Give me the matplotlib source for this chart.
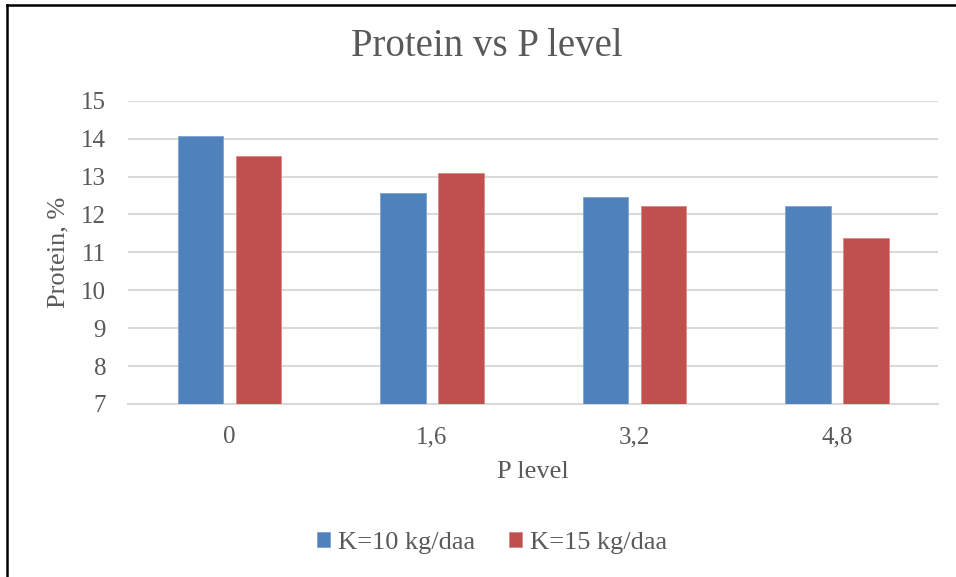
import matplotlib.pyplot as plt
import numpy as np
from matplotlib.lines import Line2D

# data
p_levels = ["0", "1,6", "3,2", "4,8"]
protein_k10 = [14.08, 12.56, 12.46, 12.22]
protein_k15 = [13.54, 13.09, 12.22, 11.38]
series_names = ["K=10 kg/daa", "K=15 kg/daa"]
y_ticks = [7, 8, 9, 10, 11, 12, 13, 14, 15]

BLUE = "#4f81bd"
RED = "#c0504d"
TEXT = "#595959"
GRID = "#d9d9d9"

plt.rcParams["font.family"] = ["Liberation Serif", "DejaVu Serif"]

W, H = 956, 577
fig = plt.figure(figsize=(W / 100, H / 100), dpi=100)
ax = fig.add_axes([128.3 / W, 1 - 404 / H, (938 - 128.3) / W, (404 - 100.7) / H])

x = np.arange(len(p_levels))
width = 0.225
offset = 0.143
ax.bar(x - offset, protein_k10, width, color=BLUE, edgecolor="#7fa3d1",
       linewidth=0.6, label=series_names[0], zorder=3)
ax.bar(x + offset, protein_k15, width, color=RED, edgecolor="#d98886",
       linewidth=0.6, label=series_names[1], zorder=3)

ax.set_xlim(-0.5, len(p_levels) - 0.5)
ax.set_ylim(7, 15)
ax.set_yticks(y_ticks)
ax.set_xticks(x)
ax.set_xticklabels(p_levels)
ax.tick_params(axis="both", length=0, labelsize=18, labelcolor=TEXT)
ax.tick_params(axis="y", pad=16)
ax.tick_params(axis="x", pad=16)
ax.grid(axis="y", color=GRID, linewidth=1.5, zorder=0)
for s in ["top", "right", "left"]:
    ax.spines[s].set_visible(False)
ax.spines["bottom"].set_color(GRID)
ax.spines["bottom"].set_linewidth(1.5)

fig.text(487 / W, 1 - 47 / H, "Protein vs P level", ha="center", va="center",
         fontsize=28, color=TEXT)
fig.text(533 / W, 1 - 472 / H, "P level", ha="center", va="center",
         fontsize=19, color=TEXT)
fig.text(58 / W, 1 - 252 / H, "Protein, %", ha="center", va="center",
         fontsize=19, color=TEXT, rotation=90)

fig.legend(loc="center", bbox_to_anchor=(492 / W, 1 - 543 / H), ncol=2,
           frameon=False, fontsize=19, labelcolor=TEXT, handlelength=0.5,
           handleheight=0.5, handletextpad=0.3, columnspacing=1.3)

# page frame lines (cropped document border)
fig.add_artist(Line2D([7 / W, 1], [1 - 4.5 / H, 1 - 4.5 / H], color="black", linewidth=1.8))
fig.add_artist(Line2D([7 / W, 7 / W], [0, 1 - 4.5 / H], color="black", linewidth=1.8))

fig.savefig("out.png", dpi=100, facecolor="white")
